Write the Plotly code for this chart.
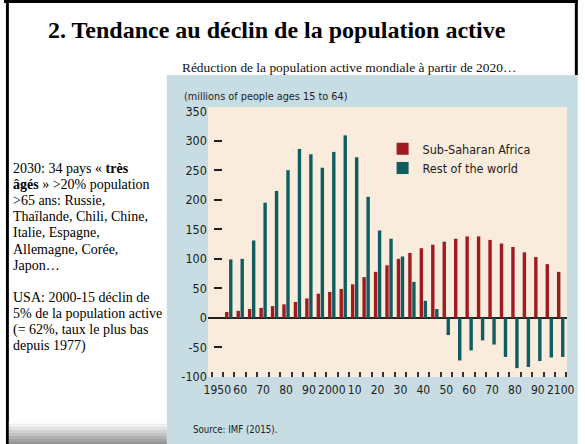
import plotly.graph_objects as go

# ---------------- data ----------------
years = [1955, 1960, 1965, 1970, 1975, 1980, 1985, 1990, 1995, 2000,
         2005, 2010, 2015, 2020, 2025, 2030, 2035, 2040, 2045, 2050,
         2055, 2060, 2065, 2070, 2075, 2080, 2085, 2090, 2095, 2100]
ssa = [10, 12, 15, 17, 20, 23, 27, 33, 41, 44,
       49, 57, 69, 78, 89, 100, 110, 118, 124, 129,
       134, 138, 138, 132, 126, 120, 111, 103, 91, 78]
rest = [99, 100, 131, 195, 215, 250, 286, 277, 254, 281,
        309, 272, 205, 148, 134, 104, 61, 29, 15, -29,
        -72, -55, -38, -45, -66, -85, -83, -73, -67, -66]
series_names = ["Sub-Saharan Africa", "Rest of the world"]
x_tickvals = [1950, 1960, 1970, 1980, 1990, 2000, 2010, 2020, 2030, 2040,
              2050, 2060, 2070, 2080, 2090, 2100]
x_ticktext = ["1950", "60", "70", "80", "90", "2000", "10", "20", "30", "40",
              "50", "60", "70", "80", "90", "2100"]
x_minor_ticks = [1947.5 + 5 * k for k in range(32)]
y_labels = [-100, -50, 0, 50, 100, 150, 200, 250, 300, 350]
y_dashes = [-50, 0, 50, 100, 150, 200, 250, 300]

title = "<b>2. Tendance au déclin de la population active</b>"
subtitle = "Réduction de la population active mondiale à partir de 2020…"
unit_label = "(millions of people ages 15 to 64)"
source = "Source: IMF (2015)."
side_lines = [
    "2030: 34 pays « <b>très</b>",
    "<b>âgés</b> » >20% population",
    ">65 ans: Russie,",
    "Thaïlande, Chili, Chine,",
    "Italie, Espagne,",
    "Allemagne, Corée,",
    "Japon…",
    "",
    "USA: 2000-15 déclin de",
    "5% de la population active",
    "(= 62%, taux le plus bas",
    "depuis 1977)",
]

# ---------------- layout geometry ----------------
WIDTH, HEIGHT = 585, 444
L, R, T, B = 208, 11, 107, 67
W = WIDTH - L - R
H = HEIGHT - T - B


def px(x):
    return (x - L) / W


def py(y):
    return 1 - (y - T) / H


NARROW = "DejaVu Sans Condensed, Liberation Sans Narrow, Arial Narrow, sans-serif"
SERIF = "Liberation Serif, Times New Roman, serif"
RED = "#a01b1f"
TEAL = "#105d61"
BOXBG = "#c8dde3"
BEIGE = "#f9ecdc"
INK = "#1c1c1c"

fig = go.Figure()
fig.add_trace(go.Bar(x=years, y=ssa, name=series_names[0], marker_color=RED,
                     marker_line_width=0))
fig.add_trace(go.Bar(x=years, y=rest, name=series_names[1], marker_color=TEAL,
                     marker_line_width=0))
# helper invisible trace for the tick-dash axis
fig.add_trace(go.Scatter(x=[None], y=[None], yaxis="y2", showlegend=False,
                         hoverinfo="skip"))

shapes = []
# chart box background
shapes.append(dict(type="rect", xref="paper", yref="paper", layer="below",
                   x0=px(166), x1=px(585), y0=py(75), y1=py(444),
                   fillcolor=BOXBG, line_width=0))
# beige plotting field
shapes.append(dict(type="rect", xref="paper", yref="paper", layer="below",
                   x0=px(208), x1=px(574), y0=py(107), y1=py(377),
                   fillcolor=BEIGE, line_width=0))
# slide frame
shapes.append(dict(type="rect", xref="paper", yref="paper", layer="below",
                   x0=px(2), x1=px(5), y0=py(0), y1=py(444),
                   fillcolor="#000000", line_width=0))
shapes.append(dict(type="rect", xref="paper", yref="paper", layer="below",
                   x0=px(0), x1=px(585), y0=py(0), y1=py(3),
                   fillcolor="#000000", line_width=0))
shapes.append(dict(type="rect", xref="paper", yref="paper", layer="below",
                   x0=px(582), x1=px(585), y0=py(0), y1=py(75),
                   fillcolor="#000000", line_width=0))
# grey fade at bottom-left
grey_steps = ["#fbfbfb", "#f0f0f0", "#e2e2e2", "#d2d2d2", "#c2c2c2",
              "#b2b2b2", "#a2a2a2", "#959595"]
for k, c in enumerate(grey_steps):
    y0 = 421 + k * 3
    shapes.append(dict(type="rect", xref="paper", yref="paper", layer="below",
                       x0=px(5), x1=px(166), y0=py(y0), y1=py(y0 + 3),
                       fillcolor=c, line_width=0))

annotations = []
annotations.append(dict(text=title, xref="paper", yref="paper",
                        x=px(278), y=py(30), xanchor="center", yanchor="middle",
                        showarrow=False, font=dict(family=SERIF, size=24, color="#000")))
annotations.append(dict(text=subtitle, xref="paper", yref="paper",
                        x=px(352), y=py(67), xanchor="center", yanchor="middle",
                        showarrow=False, font=dict(family=SERIF, size=13.4, color="#111")))
annotations.append(dict(text=unit_label, xref="paper", yref="paper",
                        x=px(181), y=py(96), xanchor="left", yanchor="middle",
                        showarrow=False, font=dict(family=NARROW, size=10.8, color=INK)))
annotations.append(dict(text=source, xref="paper", yref="paper",
                        x=px(191), y=py(429), xanchor="left", yanchor="middle",
                        showarrow=False, font=dict(family=NARROW, size=9.6, color=INK)))
for k, line in enumerate(side_lines):
    if not line:
        continue
    annotations.append(dict(text=line, xref="paper", yref="paper",
                            x=px(7), y=py(168 + 16.2 * k), xanchor="left",
                            yanchor="middle", showarrow=False,
                            font=dict(family=SERIF, size=14, color="#000")))

fig.update_layout(
    width=WIDTH, height=HEIGHT,
    margin=dict(l=L, r=R, t=T, b=B, pad=0),
    paper_bgcolor="white",
    plot_bgcolor="rgba(0,0,0,0)",
    barmode="group", bargap=0.3, bargroupgap=0.15,
    showlegend=True,
    legend=dict(x=px(386), y=py(134), xanchor="left", yanchor="top",
                bgcolor="rgba(0,0,0,0)", borderwidth=0,
                font=dict(family=NARROW, size=12.5, color=INK),
                traceorder="normal"),
    xaxis=dict(range=[1945.93, 2102.74], tickmode="array",
               tickvals=x_tickvals, ticktext=x_ticktext, ticks="",
               tickangle=0,
               showgrid=False, zeroline=False, showline=False,
               ticklabelstandoff=4,
               tickfont=dict(family=NARROW, size=12, color=INK),
               minor=dict(tickmode="array", tickvals=x_minor_ticks,
                          ticks="inside", ticklen=5, tickwidth=2,
                          tickcolor="#333333", showgrid=False)),
    yaxis=dict(range=[-100, 357], anchor="free", position=px(213),
               tickmode="array", tickvals=y_labels,
               ticktext=[str(v) for v in y_labels], ticks="",
               showgrid=False, showline=False,
               zeroline=True, zerolinecolor="#222222", zerolinewidth=2,
               ticklabelstandoff=6,
               tickfont=dict(family=NARROW, size=12.5, color=INK)),
    yaxis2=dict(overlaying="y", matches="y", anchor="free", position=px(213),
                side="left", tickmode="array", tickvals=y_dashes,
                showticklabels=False, ticks="inside", ticklen=8, tickwidth=2,
                tickcolor="#222222", showgrid=False, zeroline=False,
                showline=False),
    shapes=shapes,
    annotations=annotations,
)

fig.write_html("out.html",
               config={"displayModeBar": False},
               post_script="document.body.style.margin='0';document.body.style.padding='0';")
